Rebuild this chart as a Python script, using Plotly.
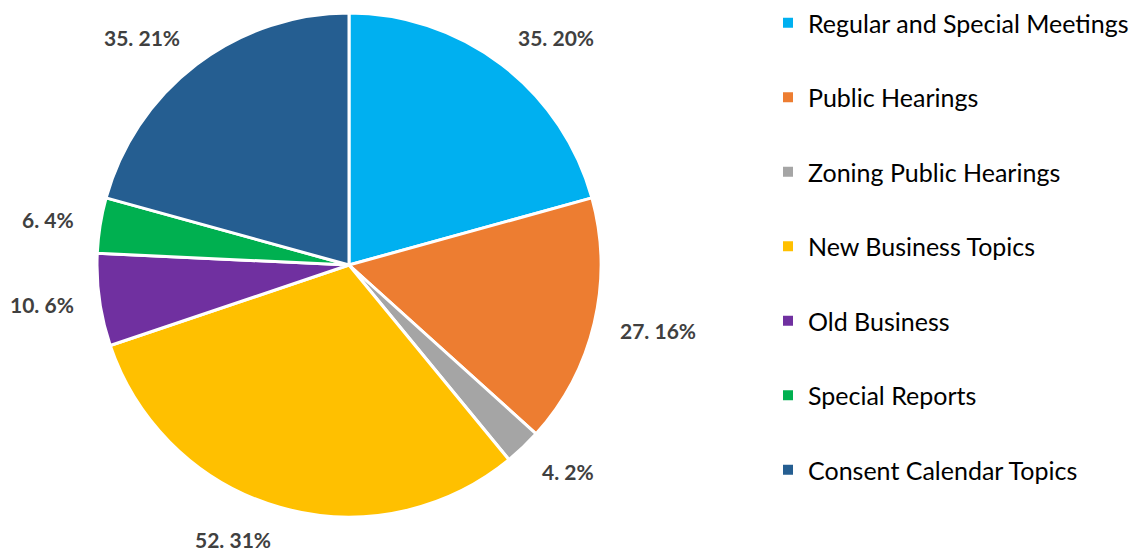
import math
import plotly.graph_objects as go

categories = ["Regular and Special Meetings", "Public Hearings", "Zoning Public Hearings",
              "New Business Topics", "Old Business", "Special Reports", "Consent Calendar Topics"]
values = [35, 27, 4, 52, 10, 6, 35]
percents = [20, 16, 2, 31, 6, 4, 21]
colors = ["#00B0F0", "#ED7D31", "#A5A5A5", "#FFC000", "#7030A0", "#00B050", "#255E91"]

W, H = 1141, 553
cx, cy, r = 349, 265, 252
label_r = r + 24

labels_txt = [f"{v}. {p}%" for v, p in zip(values, percents)]

fig = go.Figure()
fig.add_trace(go.Pie(
    labels=categories, values=values, textinfo="none",
    sort=False, direction="clockwise", rotation=0,
    marker=dict(colors=colors, line=dict(color="white", width=3)),
    showlegend=False,
    domain=dict(x=[(cx - r) / W, (cx + r) / W], y=[1 - (cy + r) / H, 1 - (cy - r) / H]),
))

# data labels placed outside each slice, at the slice's mid-angle
total = sum(values)
cum = 0
for v, txt in zip(values, labels_txt):
    theta = math.radians((cum + v / 2) / total * 360)
    cum += v
    s, c = math.sin(theta), math.cos(theta)
    px = cx + label_r * s
    py = cy - label_r * c - c * 10
    xa = "left" if s >= 0 else "right"
    fig.add_annotation(
        x=px / W, y=1 - py / H, xref="paper", yref="paper",
        text=txt, showarrow=False, xanchor=xa, yanchor="middle",
        font=dict(family="Lato", size=21, color="#404040", weight="bold"),
    )

for name, col in zip(categories, colors):
    fig.add_trace(go.Scatter(
        x=[None], y=[None], mode="markers", name=name, legendgroup=name,
        marker=dict(symbol="square", size=10, color=col),
    ))

fig.update_layout(
    width=W, height=H, margin=dict(l=0, r=0, t=0, b=0),
    paper_bgcolor="white", plot_bgcolor="white",
    xaxis=dict(visible=False), yaxis=dict(visible=False),
    legend=dict(x=768 / W, xanchor="left", y=1.0, yanchor="top",
                font=dict(family="Lato", size=25, color="#000000"),
                tracegroupgap=39, itemwidth=30, bgcolor="rgba(0,0,0,0)"),
)

fig.write_html("out.html", config={"displayModeBar": False},
               post_script="document.body.style.margin='0';")
